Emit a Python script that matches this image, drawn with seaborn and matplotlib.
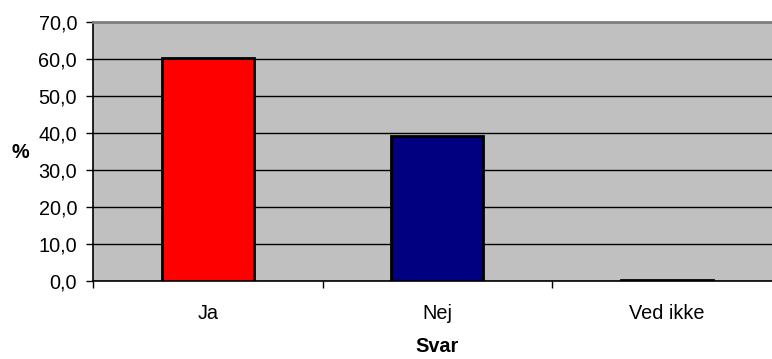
import matplotlib
matplotlib.use("Agg")
import matplotlib.pyplot as plt
from matplotlib.ticker import FuncFormatter, FixedLocator
import seaborn as sns

# Svar fordeling (procent)
categories = ["Ja", "Nej", "Ved ikke"]
values = [60.4, 39.2, 0.4]
bar_colors = ["#FF0000", "#000080", "#000080"]

sns.set_style("white")
plt.rcParams["font.family"] = ["Liberation Sans", "DejaVu Sans"]
plt.rcParams["text.color"] = "black"
plt.rcParams["xtick.color"] = "black"
plt.rcParams["ytick.color"] = "black"
plt.rcParams["axes.labelcolor"] = "black"

fig = plt.figure(figsize=(7.72, 3.59), dpi=100)
ax = fig.add_axes([93 / 772, (359 - 281.3) / 359, 688.5 / 772, 259.3 / 359])
ax.set_facecolor("#C0C0C0")

sns.barplot(x=categories, y=values, hue=categories, palette=bar_colors,
            legend=False, width=0.4, edgecolor="black", linewidth=2.0,
            saturation=1, ax=ax, zorder=3)

ax.set_xlim(-0.5, 2.5)
ax.set_ylim(0, 70)
ax.set_yticks(range(0, 71, 10))
ax.yaxis.set_major_formatter(FuncFormatter(lambda v, p: f"{v:.1f}".replace(".", ",")))
ax.yaxis.grid(True, color="black", linewidth=1.0, zorder=1)
ax.set_axisbelow(True)

ax.tick_params(axis="y", direction="out", length=5, width=1, color="black",
               labelcolor="black", pad=6.5, labelsize=14.3, left=True)
ax.tick_params(axis="x", which="major", length=0, pad=16, labelsize=14.3,
               labelcolor="black")
ax.xaxis.set_minor_locator(FixedLocator([-0.5, 0.5, 1.5]))
ax.tick_params(axis="x", which="minor", direction="out", length=5, width=1,
               color="black", bottom=True)

ax.set_xlabel("")
ax.set_ylabel("")

for side in ["left", "bottom"]:
    ax.spines[side].set_color("black")
    ax.spines[side].set_linewidth(1.2)
ax.spines["top"].set_color("#808080")
ax.spines["top"].set_linewidth(2)
ax.spines["right"].set_visible(False)

fig.text(20 / 772, 1 - 152 / 359, "%", fontsize=14.3, fontweight="bold",
         color="black", ha="center", va="center")
fig.text(437 / 772, 1 - 347 / 359, "Svar", fontsize=14.3, fontweight="bold",
         color="black", ha="center", va="center")

fig.savefig("out.png", dpi=100)
